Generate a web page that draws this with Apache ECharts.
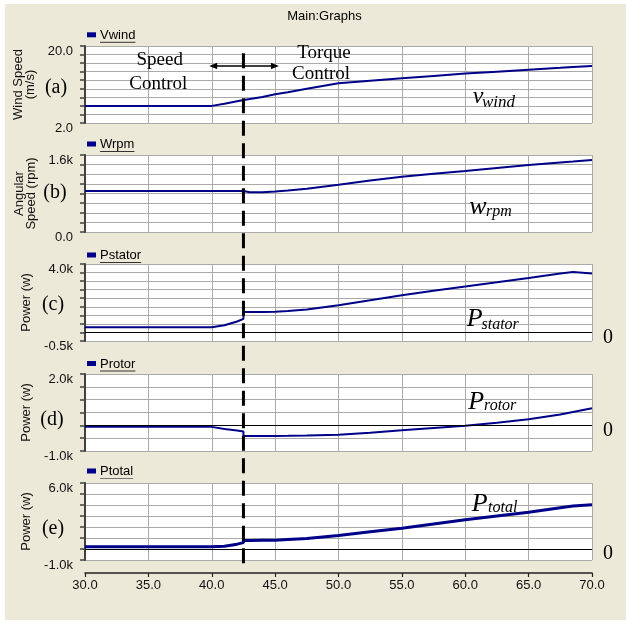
<!DOCTYPE html>
<html>
<head>
<meta charset="utf-8">
<script src="https://cdn.jsdelivr.net/npm/echarts@6/dist/echarts.min.js"></script>
<style>
  html, body { margin: 0; padding: 0; background: #fff; }
  #chart { width: 626px; height: 621px; }
</style>
</head>
<body>
<div id="chart"></div>
<script>
// time axis (s); 42.5 appears twice because the power curves jump there
const TIME = [30, 40, 41, 42, 42.5, 42.5, 43, 44, 45, 46, 47.5, 50, 52.5, 55, 57.5, 60, 62.5, 65, 67.5, 68.5, 70];

const VWIND   = [6.0, 6.0, 6.5, 7.1, 7.4, 7.4, 7.6, 8.1, 8.7, 9.2, 10.0, 11.3, 11.9, 12.45, 13.0, 13.55, 14.0, 14.45, 14.9, 15.1, 15.35];
const WRPM    = [850, 850, 850, 850, 850, 850, 828, 828, 840, 860, 900, 980, 1070, 1147, 1210, 1266, 1330, 1391, 1445, 1465, 1496];
const PSTATOR = [300, 300, 420, 640, 790, 1200, 1200, 1200, 1210, 1250, 1340, 1590, 1880, 2170, 2430, 2686, 2930, 3180, 3440, 3530, 3450];
const PROTOR  = [-60, -60, -140, -200, -240, -420, -420, -420, -415, -410, -400, -370, -290, -190, -100, -20, 100, 233, 420, 520, 665];
const PTOTAL  = [200, 200, 250, 440, 580, 770, 780, 790, 800, 860, 950, 1220, 1560, 1890, 2270, 2650, 3000, 3350, 3750, 3900, 4020];

const SERIES_NAMES = ['Vwind', 'Wrpm', 'Pstator', 'Protor', 'Ptotal'];
const Y_NAMES = ['Wind Speed\n(m/s)', 'Angular\nSpeed (rpm)', 'Power (w)', 'Power (w)', 'Power (w)'];
const PANEL_TAGS = ['(a)', '(b)', '(c)', '(d)', '(e)'];
const Y_MIN  = [2, 0, -500, -1000, -1000];
const Y_MAX  = [20, 1600, 4000, 2000, 6000];
const Y_STEP = [2, 200, 500, 500, 1000];
const Y_TICK_LABELS = [['2.0', '20.0'], ['0.0', '1.6k'], ['-0.5k', '4.0k'], ['-1.0k', '2.0k'], ['-1.0k', '6.0k']];
const X_TICKS = [30, 35, 40, 45, 50, 55, 60, 65, 70];
const X_TICK_LABELS = ['30.0', '35.0', '40.0', '45.0', '50.0', '55.0', '60.0', '65.0', '70.0'];
const SWITCH_TIME = 42.5;
const ARROW_SPAN = [39.8, 45.3];

const allValues = [VWIND, WRPM, PSTATOR, PROTOR, PTOTAL];

// layout
const GRID_TOPS = [46, 155, 264, 374, 483];
const GRID_H = 77;
const GRID_LEFT = 85;
const GRID_RIGHT = 34;
const LINE_COLOR = '#000088';
const SPLIT = '#aaaaaa';
const SANS = '"Liberation Sans", Arial, sans-serif';
const SERIF = '"Liberation Serif", "Times New Roman", serif';

const chart = echarts.init(document.getElementById('chart'));

const grids = GRID_TOPS.map(t => ({
  left: GRID_LEFT, right: GRID_RIGHT, top: t, height: GRID_H,
  show: true, backgroundColor: '#fff', borderWidth: 0
}));

const xAxes = GRID_TOPS.map((t, i) => {
  const last = i === GRID_TOPS.length - 1;
  return {
    type: 'value', gridIndex: i, min: 30, max: 70, interval: 5,
    offset: last ? 13 : 0,
    axisLine: { show: last, onZero: false, lineStyle: { color: '#222', width: 1.5 } },
    axisTick: { show: last, length: 4, lineStyle: { color: '#222', width: 1.2 } },
    axisLabel: {
      show: last, margin: 6, fontSize: 13, fontFamily: SANS, color: '#111',
      formatter: v => X_TICK_LABELS[X_TICKS.indexOf(v)] || ''
    },
    splitLine: { show: true, lineStyle: { color: SPLIT, width: 1 } }
  };
});

const yAxes = GRID_TOPS.map((t, i) => ({
  type: 'value', gridIndex: i,
  min: Y_MIN[i], max: Y_MAX[i], interval: Y_STEP[i],
  name: Y_NAMES[i], nameLocation: 'middle', nameRotate: 90,
  nameGap: i === 0 ? 44 : (i === 1 ? 42 : 53),
  nameTextStyle: { fontSize: 13, fontFamily: SANS, color: '#111', lineHeight: 12 },
  axisLine: { show: true, onZero: false, lineStyle: { color: '#404040', width: 2 } },
  axisTick: { show: true, length: 5, lineStyle: { color: '#404040', width: 1.5 } },
  axisLabel: {
    margin: 12, fontSize: 13, fontFamily: SANS, color: '#111',
    verticalAlign: 'top', lineHeight: 10,
    formatter: v => v === Y_MIN[i] ? Y_TICK_LABELS[i][0] : (v === Y_MAX[i] ? Y_TICK_LABELS[i][1] : '')
  },
  splitLine: { show: true, lineStyle: { color: SPLIT, width: 1 } }
}));

const series = allValues.map((vals, i) => {
  const s = {
    name: SERIES_NAMES[i], type: 'line', xAxisIndex: i, yAxisIndex: i,
    data: TIME.map((t, k) => [t, vals[k]]),
    showSymbol: false, symbol: 'none',
    lineStyle: { color: LINE_COLOR, width: i === 4 ? 3 : 2 },
    itemStyle: { color: LINE_COLOR },
    z: 3
  };
  if (i >= 2) {
    s.markLine = {
      silent: true, symbol: ['none', 'none'], animation: false,
      lineStyle: { color: '#000', width: 1.2, type: 'solid' },
      label: {
        show: true, position: 'end', formatter: '0', distance: 11, offset: [0, 5],
        fontFamily: SERIF, fontSize: 20, color: '#000'
      },
      data: [{ yAxis: 0 }]
    };
  }
  return s;
});

chart.setOption({
  animation: false,
  backgroundColor: '#fff',
  grid: grids,
  xAxis: xAxes,
  yAxis: yAxes,
  series: series
});

// annotations
function txt(text, x, y, font, align, vAlign) {
  return {
    type: 'text', x: x, y: y, z: 10,
    style: {
      text: text, font: font, fill: '#000',
      align: align || 'left', textAlign: align || 'left',
      verticalAlign: vAlign || 'middle', textVerticalAlign: vAlign || 'middle'
    }
  };
}

const measure = document.createElement('canvas').getContext('2d');
measure.font = '13px ' + SANS;

const legendCenters = [35.3, 144.5, 255.5, 364, 471.5];
const tagCenters = [[56, 87.5], [55, 193], [53, 305], [52, 420], [53, 529]];

const graphics = [
  { type: 'rect', z: -100, shape: { x: 5, y: 4, width: 621, height: 616 }, style: { fill: '#ece9d8' } },
  txt('Main:Graphs', 324.5, 16.3, '13px ' + SANS, 'center')
];

SERIES_NAMES.forEach((n, i) => {
  const cy = legendCenters[i];
  const w = measure.measureText(n).width;
  graphics.push({ type: 'rect', z: 10, shape: { x: 87, y: cy - 3, width: 9, height: 5 }, style: { fill: LINE_COLOR } });
  graphics.push(txt(n, 100, cy, '13px ' + SANS, 'left'));
  graphics.push({ type: 'line', z: 10, shape: { x1: 100, y1: cy + 7, x2: 100 + w, y2: cy + 7 },
    style: { stroke: i === 4 ? '#777' : '#333', lineWidth: 1 } });
  graphics.push(txt(PANEL_TAGS[i], tagCenters[i][0], tagCenters[i][1], '20px ' + SERIF, 'center'));
});

// italic curve labels: main letter + subscript (left x, baseline y, size)
const curveLabels = [
  ['v', 472.7, 105, 24, 'wind', 482, 108, 17],
  ['w', 469.3, 216, 26, 'rpm', 486, 217, 16],
  ['P', 466.7, 328.3, 26, 'stator', 481.5, 330.5, 16],
  ['P', 468.3, 410.7, 26, 'rotor', 484, 411.5, 16],
  ['P', 471.7, 512.7, 26, 'total', 488, 513, 16]
];
curveLabels.forEach(c => {
  graphics.push(txt(c[0], c[1], c[2] - 0.34 * c[3], 'italic ' + c[3] + 'px ' + SERIF, 'left'));
  graphics.push(txt(c[4], c[5], c[6] - 0.34 * c[7], 'italic ' + c[7] + 'px ' + SERIF, 'left'));
});

// control-region texts
[['Speed', 159.7, 66.5], ['Control', 158.3, 90.5], ['Torque', 324, 59], ['Control', 321, 80.5]].forEach(t => {
  graphics.push(txt(t[0], t[1], t[2] - 0.34 * 19, '19px ' + SERIF, 'center'));
});

const xs = chart.convertToPixel({ xAxisIndex: 0 }, SWITCH_TIME);
graphics.push({ type: 'line', z: 20, shape: { x1: xs, y1: 53.3, x2: xs, y2: 563.3 },
  style: { stroke: '#000', lineWidth: 3, lineDash: [15, 7.5] } });

const ax1 = chart.convertToPixel({ xAxisIndex: 0 }, ARROW_SPAN[0]);
const ax2 = chart.convertToPixel({ xAxisIndex: 0 }, ARROW_SPAN[1]);
const ay = 66;
graphics.push({ type: 'line', z: 20, shape: { x1: ax1 + 4, y1: ay, x2: ax2 - 4, y2: ay }, style: { stroke: '#000', lineWidth: 1.5 } });
graphics.push({ type: 'polygon', z: 20, shape: { points: [[ax1, ay], [ax1 + 8, ay - 3.3], [ax1 + 8, ay + 3.3]] }, style: { fill: '#000' } });
graphics.push({ type: 'polygon', z: 20, shape: { points: [[ax2, ay], [ax2 - 8, ay - 3.3], [ax2 - 8, ay + 3.3]] }, style: { fill: '#000' } });

chart.setOption({ graphic: graphics });
</script>
</body>
</html>
